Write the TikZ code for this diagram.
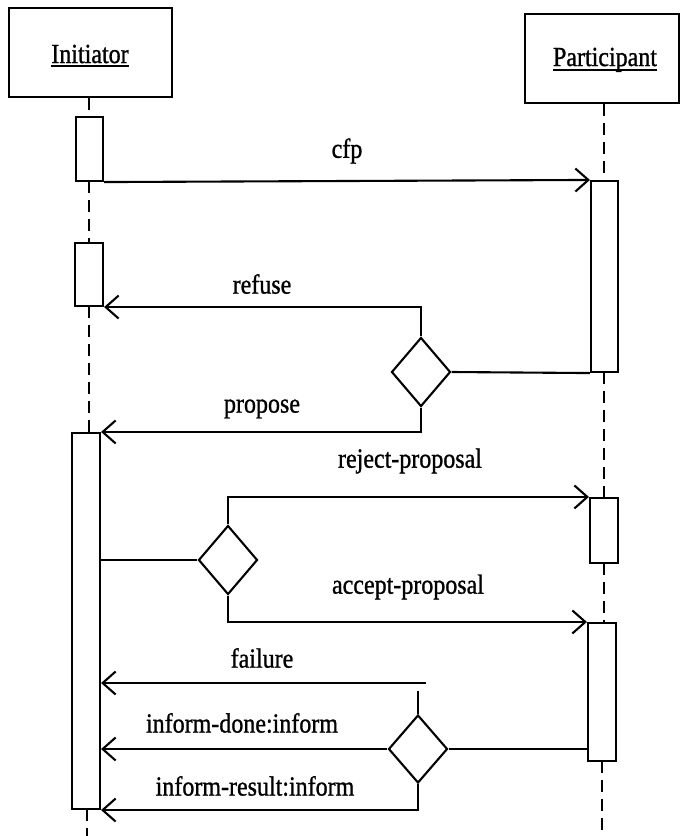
\documentclass[tikz,border=0pt]{standalone}
\usepackage{fontspec}
\usepackage{graphicx}
\setmainfont{Liberation Serif}
\newfontfamily\diagfont[FakeBold=1.1]{Liberation Serif}
\newcommand{\tallText}[1]{\scalebox{1}[1.15]{#1}}
\usetikzlibrary{arrows.meta,shapes.geometric}

\tikzset{
  ink/.style={line width=2.1pt, line join=miter},
  lifebox/.style={ink, draw, rectangle, inner sep=0pt},
  actbox/.style={ink, draw, rectangle, fill=white, inner sep=0pt},
  choice/.style={ink, draw, diamond, fill=white, inner sep=0pt,
    minimum width=59pt, minimum height=69pt},
  msg/.style={ink, -{Straight Barb[length=13pt,width=23pt,line width=2.1pt]}},
  link/.style={ink},
  lifeline/.style={line width=1.8pt, dash pattern=on 12pt off 7pt},
  lbl/.style={inner sep=0pt, font=\diagfont\fontsize{24}{28}\selectfont},
  objlabel/.style={inner sep=0pt, font=\diagfont\fontsize{24}{28}\selectfont}
}

\begin{document}
\begin{tikzpicture}[x=1pt,y=-1pt]
\useasboundingbox (0,0) rectangle (682,836);

% object boxes
\node[lifebox, minimum width=163pt, minimum height=89pt] (iniBox) at (90.5,52.5) {};
\node[lifebox, minimum width=154pt, minimum height=89pt] (parBox) at (602,58.5) {};
\node[objlabel, anchor=base] (iniName) at (90,63) {\tallText{Initiator}};
\node[objlabel, anchor=base] (parName) at (605,66) {\tallText{Participant}};
\draw[line width=1.6pt] ([yshift=-3pt]iniName.base west) -- ([yshift=-3pt]iniName.base east);
\draw[line width=1.6pt] ([yshift=-4pt]parName.base west) -- ([yshift=-4pt]parName.base east);

% lifelines
\draw[lifeline] (iniBox.south -| 89,0) -- (89,117);
\draw[lifeline] (89,181) -- (89,243);
\draw[lifeline] (89,306) -- (89,433);
\draw[lifeline] (87,809) -- (87,836);
\draw[lifeline] (parBox.south -| 604,0) -- (604,181);
\draw[lifeline] (604,372) -- (604,498);
\draw[lifeline] (604,563) -- (604,623);
\draw[lifeline] (602,761) -- (602,836);

% activation bars
\node[actbox, minimum width=27pt, minimum height=64pt]  (act1)  at (89.5,149) {};
\node[actbox, minimum width=28pt, minimum height=63pt]  (act2)  at (89,274.5) {};
\node[actbox, minimum width=28pt, minimum height=376pt] (act3)  at (86,621) {};
\node[actbox, minimum width=27pt, minimum height=191pt] (pact1) at (604.5,276.5) {};
\node[actbox, minimum width=28pt, minimum height=65pt]  (pact2) at (604,530.5) {};
\node[actbox, minimum width=28pt, minimum height=138pt] (pact3) at (602,692) {};

% decision points
\node[choice] (d1) at (421,372) {};
\node[choice] (d2) at (228,560) {};
\node[choice, minimum height=68pt] (d3) at (418,749) {};
\coordinate (fEnd) at (426,683);
\coordinate (d3stub) at (418,691);

% messages
\draw[msg] (act1.south east) -- (pact1.north west);
\draw[link] (pact1.south west) -- (d1.east);
\draw[msg] (d1.north) |- (act2.south east);
\draw[msg] (d1.south) |- (act3.north east);
\draw[link] (act3.east |- d2.west) -- (d2.west);
\draw[msg] (d2.north) |- (pact2.north west);
\draw[msg] (d2.south) |- (pact3.north west);
\draw[msg] (fEnd) -- (fEnd -| act3.east);
\draw[link] (d3.north) -- (d3stub);
\draw[link] (pact3.west |- d3.east) -- (d3.east);
\draw[msg] (d3.west) -- (d3.west -| act3.east);
\draw[msg] (d3.south) |- (act3.south east);

% message labels
\node[lbl] (lcfp)  at (347,151) {\tallText{cfp}};
\node[lbl] (lref)  at (262,284) {\tallText{refuse}};
\node[lbl] (lprop) at (262,409) {\tallText{propose}};
\node[lbl] (lrej)  at (410,461) {\tallText{reject-proposal}};
\node[lbl] (lacc)  at (408,587) {\tallText{accept-proposal}};
\node[lbl] (lfail) at (262,658) {\tallText{failure}};
\node[lbl] (ldone) at (242,723) {\tallText{inform-done:inform}};
\node[lbl] (lres)  at (255,786) {\tallText{inform-result:inform}};
\end{tikzpicture}
\end{document}
